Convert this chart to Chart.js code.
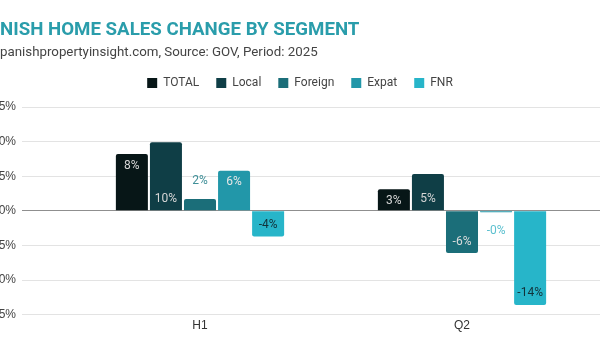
<!DOCTYPE html>
<html><head><meta charset="utf-8">
<script src="https://cdn.jsdelivr.net/npm/chart.js@4.4.1/dist/chart.umd.min.js"></script>
<style>
html,body{margin:0;padding:0;width:600px;height:350px;overflow:hidden;background:#fff;position:relative}
#wrap{position:absolute;left:-20px;top:0;width:640px;height:350px}
#title{position:absolute;top:19px;left:0;white-space:nowrap;font:700 18.7px/20px Roboto;color:#2a9dab}
#sub{position:absolute;top:45px;left:0;white-space:nowrap;font:400 13.3px/13px Roboto;color:#444}
</style></head><body>
<div id="wrap"><canvas id="c" width="640" height="350"></canvas></div>
<div id="title"><span id="tp">SPA</span>NISH HOME SALES CHANGE BY SEGMENT</div>
<div id="sub"><span id="sp">S</span>panishpropertyinsight.com, Source: GOV, Period: 2025</div>
<script>
const categories = ['H1', 'Q2'];
const seriesNames = ['TOTAL', 'Local', 'Foreign', 'Expat', 'FNR'];
const totalValues = [8.2, 3.1];
const localValues = [9.9, 5.3];
const foreignValues = [1.7, -6.1];
const expatValues = [5.8, -0.2];
const fnrValues = [-3.7, -13.6];
const yTickValues = [-15, -10, -5, 0, 5, 10, 15];

const seriesValues = [totalValues, localValues, foreignValues, expatValues, fnrValues];
const barColors = ['#071617', '#0f3e46', '#1b6e79', '#2297a9', '#27b5c9'];
const insideLabelColors = ['#d6d6d6', '#d6d6d6', '#dcdcdc', '#e6e6e6', '#12333a'];
const outsideLabelColors = ['#071617', '#0f3e46', '#3f8f98', '#5cc0cf', '#27b5c9'];
const labelAnchor = ['end', 'start', 'end', 'end', 'end'];

document.getElementById('title').style.left = (-document.getElementById('tp').getBoundingClientRect().width) + 'px';
document.getElementById('sub').style.left = (-document.getElementById('sp').getBoundingClientRect().width) + 'px';

const gridColor = (c) => (c.tick && c.tick.value === 0) ? '#8f8f8f' : '#e3e3e3';

const legendSpacing = {
  id: 'legendSpacing',
  beforeInit(chart) {
    const origFit = chart.legend.fit;
    chart.legend.fit = function () {
      origFit.call(this);
      this.height += 8;
    };
  }
};

const valueLabels = {
  id: 'valueLabels',
  afterDatasetsDraw(chart) {
    const ctx = chart.ctx;
    ctx.save();
    ctx.font = '12px Roboto';
    ctx.textAlign = 'center';
    ctx.textBaseline = 'middle';
    chart.data.datasets.forEach((ds, i) => {
      const meta = chart.getDatasetMeta(i);
      meta.data.forEach((el, j) => {
        const v = ds.data[j];
        const h = Math.abs(el.base - el.y);
        const dir = v >= 0 ? 1 : -1;
        let y, color;
        if (h < 20) { y = el.y - dir * 18.5; color = outsideLabelColors[i]; }
        else if (labelAnchor[i] === 'start') { y = el.base - dir * 11.5; color = insideLabelColors[i]; }
        else { y = el.y + dir * 11.5; color = insideLabelColors[i]; }
        ctx.fillStyle = color;
        ctx.fillText(v.toFixed(0) + '%', el.x, y);
      });
    });
    ctx.restore();
  }
};

new Chart(document.getElementById('c'), {
  type: 'bar',
  data: {
    labels: categories,
    datasets: seriesNames.map((name, i) => ({
      label: name,
      data: seriesValues[i],
      backgroundColor: barColors[i],
      borderRadius: 2,
      borderWidth: 0,
      categoryPercentage: 0.65,
      barPercentage: 0.94
    }))
  },
  options: {
    responsive: false,
    animation: false,
    layout: { padding: { top: 60, bottom: 13, left: 0, right: 0 } },
    plugins: {
      legend: {
        position: 'top',
        labels: { boxWidth: 10, boxHeight: 10, padding: 17, color: '#444', font: { family: 'Roboto', size: 12 } }
      },
      tooltip: { enabled: false },
      title: { display: false }
    },
    scales: {
      x: {
        grid: { display: false, drawTicks: false },
        border: { display: false },
        ticks: { color: '#333', font: { size: 12 }, padding: 4 }
      },
      y: {
        min: yTickValues[0],
        max: yTickValues[yTickValues.length - 1],
        ticks: { stepSize: 5, callback: v => v + '%', color: '#444', font: { size: 12 }, padding: 6 },
        grid: { color: gridColor, tickColor: gridColor, tickLength: 47, drawTicks: true },
        border: { display: false },
        afterFit: s => { s.width = 89; }
      },
      y2: {
        position: 'right',
        min: yTickValues[0],
        max: yTickValues[yTickValues.length - 1],
        ticks: { display: false, stepSize: 5 },
        grid: { drawOnChartArea: false, color: gridColor, tickColor: gridColor, tickLength: 27 },
        border: { display: false }
      }
    }
  },
  plugins: [legendSpacing, valueLabels]
});
</script>
</body></html>
